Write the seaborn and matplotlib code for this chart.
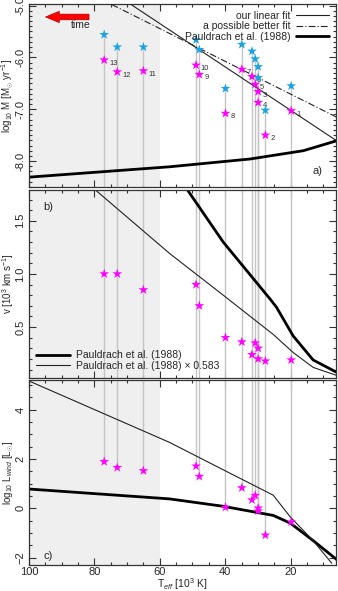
import numpy as np
import pandas as pd
import seaborn as sns
import matplotlib.pyplot as plt
from matplotlib.ticker import MultipleLocator, FormatStrFormatter

sns.set_style("ticks")
plt.rcParams['font.family'] = ['Liberation Sans', 'DejaVu Sans']
plt.rcParams['mathtext.fontset'] = 'custom'
plt.rcParams['mathtext.rm'] = 'Liberation Sans'
plt.rcParams['mathtext.it'] = 'Liberation Sans:italic'

# stars 1..13
star_id = [str(i) for i in range(1, 14)]
teff = [19.8, 27.7, 29.9, 29.9, 30.8, 31.8, 34.9, 39.9, 47.9, 48.9, 65.0, 73.0, 77.0]
mdot_mag = [-7.03, -7.50, -6.66, -6.87, -6.52, -6.37, -6.23, -7.08, -6.33, -6.15, -6.26, -6.28, -6.05]
mdot_cyan = [-6.55, -7.02, -6.18, -6.39, -6.03, -5.88, -5.75, -6.60, -5.85, -5.66, -5.80, -5.80, -5.56]
vinf = [0.19, 0.18, 0.20, 0.30, 0.35, 0.24, 0.36, 0.40, 0.70, 0.90, 0.85, 1.00, 1.00]
lwind = [-0.56, -1.09, -0.11, 0.01, 0.52, 0.34, 0.83, 0.04, 1.29, 1.71, 1.52, 1.65, 1.89]

# curves
fit_t = [100, 6]
fit_m = [-3.675, -7.604]
better_t = [100, 6]
better_m = [-4.18, -7.15]
paul_t = [100, 57, 32.4, 16.1, 6]
paul_m = [-8.31, -8.11, -7.96, -7.80, -7.61]

paul_v_t = [53, 51.3, 40.6, 26.3, 24.3, 19.2, 13.1, 5.5]
paul_v = [1.86, 1.78, 1.30, 0.765, 0.686, 0.416, 0.19, 0.067]
paul_vs_t = [80, 79.3, 56.9, 40.6, 25.3, 19.2, 13.1, 5.5]
paul_vs = [1.80, 1.78, 1.19, 0.80, 0.43, 0.26, 0.12, 0.04]

lw_thick_t = [100, 57, 40.6, 25.3, 20.1, 13.1, 5.5]
lw_thick = [0.78, 0.38, 0.08, -0.29, -0.60, -1.31, -2.12]
lw_thin_t = [100, 57, 40.6, 25.3, 20.1, 13.1, 7.4]
lw_thin = [5.16, 2.67, 1.56, 0.53, -0.35, -1.31, -2.23]

stars = pd.DataFrame({"id": star_id, "teff": teff, "m1": mdot_mag, "m2": mdot_cyan,
                      "v": vinf, "lw": lwind})

MAG = '#ff00ff'
CYAN = '#1aa3e0'
GRID = '#c4c4c4'
SHADE = '#efefef'

fig = plt.figure(figsize=(3.38, 5.91), dpi=100)
W = 338.0
H = 591.0
left = 29 / W
width = 307 / W
ax_a = fig.add_axes([left, 1 - 187 / H, width, 183 / H])
ax_b = fig.add_axes([left, 1 - 378 / H, width, 188 / H])
ax_c = fig.add_axes([left, 1 - 565 / H, width, 185 / H])

ylims = {ax_a: (-8.5, -4.97), ax_b: (0.02, 1.79), ax_c: (-2.3, 5.2)}

for ax in (ax_a, ax_b, ax_c):
    ax.set_xlim(100, 6.1)
    ax.set_ylim(*ylims[ax])
    ax.axvspan(100, 60, color=SHADE, zorder=0, lw=0)
    ax.xaxis.set_major_locator(MultipleLocator(20))
    ax.xaxis.set_minor_locator(MultipleLocator(5))
    ax.tick_params(which='both', direction='in', top=True, right=True,
                   labelsize=8, width=0.8, color='#333333', pad=2.5)
    ax.tick_params(axis='x', pad=1.5)
    ax.tick_params(which='major', length=5)
    ax.tick_params(which='minor', length=2.5)
    for s in ax.spines.values():
        s.set_linewidth(0.9)
        s.set_color('#333333')

# gray vertical lines connecting the panels
ax_a.vlines(stars["teff"], -8.5, stars["m2"], color=GRID, lw=1, zorder=1)
for t in teff:
    ax_b.axvline(t, color=GRID, lw=1, zorder=1)
ax_c.vlines(stars["teff"], stars["lw"], 5.2, color=GRID, lw=1, zorder=1)

# panel a
sns.lineplot(x=fit_t, y=fit_m, ax=ax_a, color='#222222', lw=0.8, label='our linear fit')
sns.lineplot(x=better_t, y=better_m, ax=ax_a, color='#222222', lw=0.8,
             linestyle=(0, (6, 2, 1, 2)), label='a possible better fit')
sns.lineplot(x=paul_t, y=paul_m, ax=ax_a, color='black', lw=2.0, label='Pauldrach et al. (1988)')
sns.scatterplot(data=stars, x="teff", y="m2", ax=ax_a, marker='*', s=55, color=CYAN,
                edgecolor='none', zorder=5)
sns.scatterplot(data=stars, x="teff", y="m1", ax=ax_a, marker='*', s=55, color=MAG,
                edgecolor='none', zorder=5)
for _, r in stars.iterrows():
    ax_a.annotate(r["id"], (r["teff"], r["m1"]), xytext=(3.5, -2.5), textcoords='offset points',
                  fontsize=5.5, ha='left', va='center', color='#333333')
ax_a.legend(loc='upper right', markerfirst=False, frameon=False, fontsize=7.5,
            handlelength=3.2, labelspacing=0.05, borderaxespad=0.25, handletextpad=0.5)
ax_a.yaxis.set_major_locator(MultipleLocator(1.0))
ax_a.yaxis.set_minor_locator(MultipleLocator(0.1))
ax_a.yaxis.set_major_formatter(FormatStrFormatter('%.1f'))
ax_a.set_ylabel(r'log$_{10}$ $\dot{\rm M}$ [M$_{\odot}$ yr$^{-1}$]', fontsize=7)
ax_a.annotate('', xy=(95.8, -5.22), xytext=(80.8, -5.22),
              arrowprops=dict(arrowstyle='simple,head_length=1.1,head_width=0.9,tail_width=0.45',
                              mutation_scale=9, fc='#ff0000', ec='#aa0000', lw=0.5))
ax_a.text(84.2, -5.38, 'time', fontsize=7.5, ha='center', va='center')
ax_a.text(0.94, 0.09, 'a)', transform=ax_a.transAxes, fontsize=8, ha='center', va='center')

# panel b
sns.lineplot(x=paul_v_t, y=paul_v, ax=ax_b, color='black', lw=2.0, label='Pauldrach et al. (1988)')
sns.lineplot(x=paul_vs_t, y=paul_vs, ax=ax_b, color='#222222', lw=0.8,
             label='Pauldrach et al. (1988) × 0.583')
sns.scatterplot(data=stars, x="teff", y="v", ax=ax_b, marker='*', s=55, color=MAG,
                edgecolor='none', zorder=5)
ax_b.legend(loc='lower left', frameon=False, fontsize=7.5, handlelength=3.2,
            labelspacing=0.05, borderaxespad=0.3, handletextpad=0.6)
ax_b.yaxis.set_major_locator(MultipleLocator(0.5))
ax_b.yaxis.set_minor_locator(MultipleLocator(0.1))
ax_b.yaxis.set_major_formatter(FormatStrFormatter('%.1f'))
ax_b.set_ylabel(r'v [10$^3$ km s$^{-1}$]', fontsize=7)
ax_b.text(0.063, 0.91, 'b)', transform=ax_b.transAxes, fontsize=8, ha='center', va='center')

# panel c
sns.lineplot(x=lw_thick_t, y=lw_thick, ax=ax_c, color='black', lw=2.0)
sns.lineplot(x=lw_thin_t, y=lw_thin, ax=ax_c, color='#222222', lw=0.8)
sns.scatterplot(data=stars, x="teff", y="lw", ax=ax_c, marker='*', s=55, color=MAG,
                edgecolor='none', zorder=5)
ax_c.yaxis.set_major_locator(MultipleLocator(2))
ax_c.yaxis.set_minor_locator(MultipleLocator(0.5))
ax_c.set_ylabel(r'log$_{10}$ L$_{wind}$ [L$_{\odot}$]', fontsize=7)
ax_c.text(0.063, 0.05, 'c)', transform=ax_c.transAxes, fontsize=8, ha='center', va='center')
ax_c.set_xlabel(r'T$_{eff}$ [10$^3$ K]', fontsize=7.5, labelpad=-0.5)

for ax in (ax_a, ax_b, ax_c):
    ax.yaxis.set_label_coords(-0.042, 0.5)
for ax in (ax_a, ax_b):
    ax.set_xlabel('')
    ax.tick_params(labelbottom=False)
for ax in (ax_a, ax_b, ax_c):
    plt.setp(ax.get_yticklabels(), rotation=90, va='center')

fig.savefig('out.png', dpi=100)
